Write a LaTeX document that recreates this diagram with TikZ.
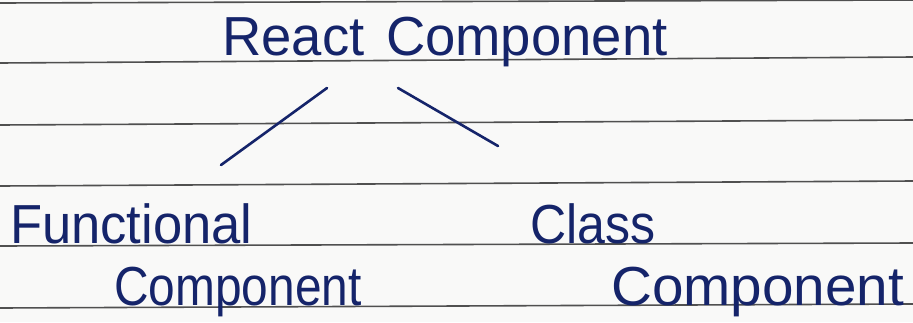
\documentclass[tikz,border=0pt]{standalone}
\usepackage{fontspec}
\setmainfont{Liberation Sans}
\definecolor{paper}{HTML}{F9F9F8}
\definecolor{rule}{HTML}{505050}
\definecolor{ink}{HTML}{15246A}
\begin{document}
\begin{tikzpicture}[x=1pt,y=-1pt,
  ruling/.style={draw=rule,line width=1.6pt},
  hand/.style={anchor=base west,inner sep=0pt,text=ink,font=\fontsize{55}{60}\selectfont},
  stroke/.style={draw=ink,line width=2.6pt,line cap=round}]
\useasboundingbox (0,0) rectangle (913,322);
\fill[paper] (0,0) rectangle (913,322);
% ruled lines
\draw[ruling] (0,3) -- (913,0);
\draw[ruling] (0,63) -- (913,57);
\draw[ruling] (0,125) -- (913,120);
\draw[ruling] (0,186) -- (913,181);
\draw[ruling] (0,246) -- (913,243);
\draw[ruling] (0,308) -- (913,304);
% texts
\node[hand] (root) at (222,55) {\scalebox{0.99}[1]{React\hspace{0.12em} Component}};
\node[hand] (func) at (10,243) {\scalebox{0.955}[1]{Functional}};
\node[hand] (funccomp) at (114,305) {\scalebox{0.87}[1]{Component}};
\node[hand] (class) at (530,243) {\scalebox{0.91}[1]{Class}};
\node[hand] (classcomp) at (611,305) {\scalebox{1.03}[1]{Component}};
% connectors
\coordinate (lt) at (327,88);
\coordinate (lb) at (221,165);
\coordinate (rt) at (398,88);
\coordinate (rb) at (498,146);
\draw[stroke] (lt) -- (lb);
\draw[stroke] (rt) -- (rb);
\end{tikzpicture}
\end{document}
